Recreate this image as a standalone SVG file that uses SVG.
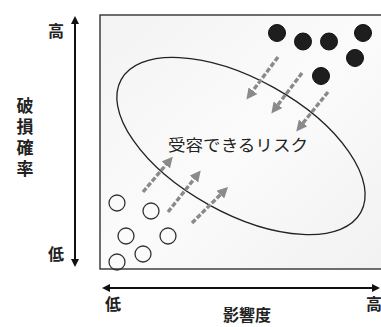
<svg xmlns="http://www.w3.org/2000/svg" width="381" height="327" viewBox="0 0 381 327">
<style>
text{font-family:"Noto Sans CJK JP","Noto Sans CJK SC",sans-serif;fill:#222}
.lbl{font-size:16px;font-weight:bold}
.v{font-size:17px;font-weight:bold;writing-mode:vertical-rl;letter-spacing:4px}
.axis{stroke:#111;stroke-width:2;fill:none}
.g{stroke:#8a8a8a;stroke-width:3.4;stroke-dasharray:5 2;fill:none}
.hi{fill:#1e1e1e;stroke:#111}
.lo{fill:none;stroke:#333;stroke-width:1.3}
</style>
<defs>
<linearGradient id="bg" x1="0" y1="0" x2="1" y2="1">
<stop offset="0" stop-color="#f3f3f3"/><stop offset="0.5" stop-color="#fbfbfb"/><stop offset="1" stop-color="#f1f1f1"/>
</linearGradient>
<marker id="ah" viewBox="0 0 10 10" refX="5" refY="5" markerWidth="4" markerHeight="4" orient="auto-start-reverse"><path d="M0,0L10,5L0,10z" fill="#111"/></marker>
<marker id="gh" viewBox="0 0 10 10" refX="6" refY="5" markerWidth="3.2" markerHeight="3.2" orient="auto"><path d="M0,0L10,5L0,10z" fill="#8a8a8a"/></marker>
</defs>
<rect width="381" height="327" fill="#fff"/>
<g id="plot">
<rect x="100" y="15" width="290" height="254" fill="url(#bg)" stroke="#222" stroke-width="1.3"/>
</g>
<g id="axes">
<line class="axis" x1="75" y1="20" x2="75" y2="263" marker-start="url(#ah)" marker-end="url(#ah)"/>
<line class="axis" x1="106" y1="288" x2="376" y2="288" marker-start="url(#ah)" marker-end="url(#ah)"/>
</g>
<g id="labels">
<text class="lbl" x="56" y="37" text-anchor="middle">高</text>
<text class="lbl" x="56" y="260" text-anchor="middle">低</text>
<text class="lbl" x="113" y="310" text-anchor="middle">低</text>
<text class="lbl" x="374" y="310" text-anchor="middle">高</text>
<text class="lbl" x="247" y="321" text-anchor="middle">影響度</text>
<text class="v" x="25" y="97">破損確率</text>
</g>
<g id="zone">
<ellipse cx="241" cy="146" rx="137" ry="67" transform="rotate(29 241 146)" fill="none" stroke="#222" stroke-width="1.3"/>
<text x="168" y="151" style="font-size:16px" textLength="140" lengthAdjust="spacingAndGlyphs">受容できるリスク</text>
</g>
<g id="high-risks">
<circle class="hi" cx="277" cy="33" r="8.5"/>
<circle class="hi" cx="303" cy="41.5" r="8.5"/>
<circle class="hi" cx="329" cy="41.5" r="8.5"/>
<circle class="hi" cx="363" cy="33" r="8.5"/>
<circle class="hi" cx="355" cy="58" r="8.5"/>
<circle class="hi" cx="321" cy="76" r="8.5"/>
</g>
<g id="low-risks">
<circle class="lo" cx="117" cy="203" r="8"/>
<circle class="lo" cx="151" cy="211" r="8"/>
<circle class="lo" cx="126" cy="236" r="8"/>
<circle class="lo" cx="168" cy="236" r="8"/>
<circle class="lo" cx="143" cy="254" r="8"/>
<circle class="lo" cx="117" cy="262" r="8"/>
</g>
<g id="connectors">
<line class="g" x1="278" y1="57" x2="249" y2="96" marker-end="url(#gh)"/>
<line class="g" x1="302" y1="73" x2="274" y2="110" marker-end="url(#gh)"/>
<line class="g" x1="328" y1="92" x2="299" y2="128" marker-end="url(#gh)"/>
<line class="g" x1="143" y1="192" x2="170" y2="160" marker-end="url(#gh)"/>
<line class="g" x1="168" y1="212" x2="198" y2="174" marker-end="url(#gh)"/>
<line class="g" x1="192" y1="223" x2="225" y2="190" marker-end="url(#gh)"/>
</g>
</svg>
